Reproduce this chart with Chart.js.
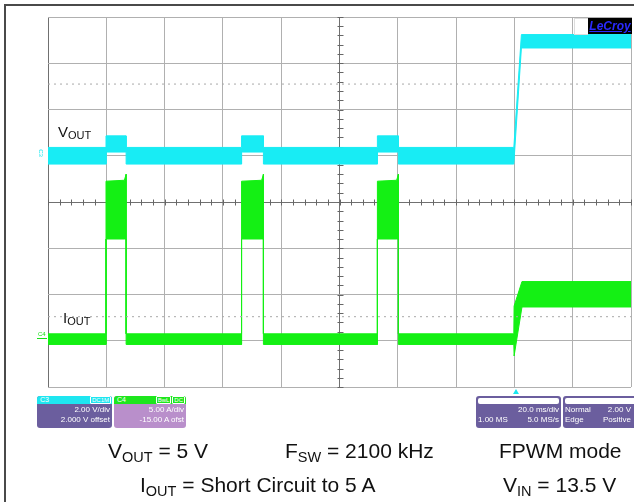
<!DOCTYPE html>
<html>
<head>
<meta charset="utf-8">
<script src="https://cdn.jsdelivr.net/npm/chart.js@4"></script>
<style>
  body { margin:0; background:#fff; }
  #wrap { position:relative; width:634px; height:502px; overflow:hidden; background:#fff; font-family:"Liberation Sans", Arial, sans-serif; }
  #scope { position:absolute; left:0; top:0; }
  .frame { position:absolute; left:4px; top:4px; width:700px; height:600px; border-left:2px solid #4a4a4a; border-top:2px solid #4a4a4a; }
  .lbl { position:absolute; font-size:15px; line-height:15px; color:#111; white-space:nowrap; }
  .lbl span { font-size:11px; position:relative; top:2px; }
  .note { position:absolute; font-size:21px; line-height:21px; color:#111; white-space:nowrap; }
  .note span { font-size:14.5px; position:relative; top:3.5px; }
  .box { position:absolute; border-radius:3px; overflow:hidden; font-size:8px; line-height:9px; color:#fff; }
  .box .hd { height:8px; position:relative; padding-left:3px; line-height:8px; font-size:7px; }
  .box .hd .tag { position:absolute; top:0; right:1px; font-size:6px; line-height:6px; }
  .box .hd .tag b { display:inline-block; border:1px solid #fff; border-radius:1px; padding:0 1px; font-weight:normal; margin-left:1px; }
  .box .row { display:flex; justify-content:space-between; padding:0 2px; height:10px; line-height:11px; }
  .box .inner { height:6px; margin:2px 2px 0 2px; background:#fff; border-radius:2px; }
  #lecroy { position:absolute; left:588px; top:18px; width:44px; height:16px; background:#000; color:#2a2aff; font:bold italic 12px "Liberation Sans", Arial, sans-serif; line-height:16px; text-align:center; text-decoration:underline; }
  #lecroyL { position:absolute; left:574px; top:18px; width:13px; height:15px; border:1px solid #ddd; border-right:none; }
  .mark { position:absolute; font-size:6px; line-height:6px; }
  #trig { position:absolute; left:513px; top:389px; width:0; height:0; border-left:3px solid transparent; border-right:3px solid transparent; border-bottom:5px solid #18e8f0; }
</style>
</head>
<body>
<div id="wrap">
  <canvas id="scope" width="634" height="502"></canvas>
  <div class="frame"></div>

  <div id="lecroyL"></div>
  <div id="lecroy">LeCroy</div>

  <div class="lbl" style="left:58px;top:124px">V<span>OUT</span></div>
  <div class="lbl" style="left:63px;top:310px">I<span>OUT</span></div>

  <div class="mark" style="left:37px;top:150px;color:#18e8f0;transform:rotate(90deg);">C3</div>
  <div class="mark" style="left:38px;top:331px;color:#18e018;">C4</div>
  <div style="position:absolute;left:37px;top:338px;width:10px;height:1px;background:#18e018;"></div>

  <div id="trig"></div>

  <div class="box" style="left:37px;top:396px;width:75px;height:32px;background:#6b5e9e;">
    <div class="hd" style="background:#1ee6f0;">C3<div class="tag"><b>DC1M</b></div></div>
    <div class="row"><span></span><span>2.00 V/div</span></div>
    <div class="row"><span></span><span>2.000 V offset</span></div>
  </div>
  <div class="box" style="left:114px;top:396px;width:72px;height:32px;background:#b98fcb;">
    <div class="hd" style="background:#1ee61e;">C4<div class="tag"><b>BwL</b><b>DC</b></div></div>
    <div class="row"><span></span><span>5.00 A/div</span></div>
    <div class="row"><span></span><span>-15.00 A ofst</span></div>
  </div>
  <div class="box" style="left:476px;top:396px;width:85px;height:32px;background:#6b5e9e;">
    <div class="inner"></div>
    <div class="row"><span></span><span>20.0 ms/div</span></div>
    <div class="row"><span>1.00 MS</span><span>5.0 MS/s</span></div>
  </div>
  <div class="box" style="left:563px;top:396px;width:76px;height:32px;background:#6b5e9e;">
    <div class="inner"></div>
    <div class="row" style="padding-right:8px"><span>Normal</span><span>2.00 V</span></div>
    <div class="row" style="padding-right:8px"><span>Edge</span><span>Positive</span></div>
  </div>

  <div class="note" style="left:108px;top:440px">V<span>OUT</span> = 5 V</div>
  <div class="note" style="left:285px;top:440px">F<span>SW</span> = 2100 kHz</div>
  <div class="note" style="left:499px;top:440px">FPWM mode</div>
  <div class="note" style="left:140px;top:474px">I<span>OUT</span> = Short Circuit to 5 A</div>
  <div class="note" style="left:503px;top:474px">V<span>IN</span> = 13.5 V</div>
</div>

<script>
// --- Dados lidos da tela (20 ms/div no eixo x, divisões no eixo y) ---
const tempoMin = 0;
const tempoMax = 200;
const divMin = -4;
const divMax = 4;

// VOUT (C3, 2 V/div): envoltória superior e inferior do ruído
const voutTempo = [0,    19.9, 19.9, 26.8, 26.8, 66.4, 66.4, 73.9, 73.9, 113.0, 113.0, 120.2, 120.2, 159.8, 162.4, 200];
const voutAlto  = [1.18, 1.18, 1.43, 1.43, 1.18, 1.18, 1.43, 1.43, 1.18, 1.18,  1.43,  1.43,  1.18,  1.18,  3.62,  3.62];
const voutBaixo = [0.82, 0.82, 1.08, 1.08, 0.82, 0.82, 1.08, 1.08, 0.82, 0.82,  1.08,  1.08,  0.82,  0.82,  3.33,  3.33];

// IOUT (C4, 5 A/div)
const ioutTempo = [0,     19.9,  19.9,  26.2,  26.8,  26.8,  66.4,  66.4,  73.3,  73.9,  73.9,  113.0, 113.0, 119.6, 120.2, 120.2, 159.8, 159.9, 162.6, 200];
const ioutAlto  = [-2.85, -2.85, 0.45,  0.47,  0.60,  -2.85, -2.85, 0.45,  0.47,  0.60,  -2.85, -2.85, 0.45,  0.47,  0.60,  -2.85, -2.85, -2.25, -1.72, -1.72];
const ioutBaixo = [-3.08, -3.08, -0.80, -0.80, -0.80, -3.08, -3.08, -0.80, -0.80, -0.80, -3.08, -3.08, -0.80, -0.80, -0.80, -3.08, -3.08, -3.33, -2.27, -2.27];

// linhas pontilhadas de cursor
const cursores = [2.55, -2.48];

const corVout = '#18ecf4';
const corIout = '#14f014';

// monta o contorno fechado: envoltória de cima pra frente, de baixo pra trás
function montarFaixa(tempo, alto, baixo) {
    const pts = [];
    for (let i = 0; i < tempo.length; i++) pts.push({x: tempo[i], y: alto[i]});
    for (let i = tempo.length - 1; i >= 0; i--) pts.push({x: tempo[i], y: baixo[i]});
    pts.push({x: tempo[0], y: alto[0]});
    return pts;
}

// marcas pequenas nos eixos centrais
const marcasCentrais = {
    id: 'marcasCentrais',
    beforeDatasetsDraw(chart) {
        const {ctx, scales: {x, y}} = chart;
        const cx = Math.round(x.getPixelForValue((tempoMin + tempoMax) / 2)) + 0.5;
        const cy = Math.round(y.getPixelForValue(0)) + 0.5;
        ctx.save();
        ctx.strokeStyle = '#666';
        ctx.lineWidth = 1;
        ctx.beginPath();
        for (let t = tempoMin; t <= tempoMax; t += 4) {
            const px = Math.round(x.getPixelForValue(t)) + 0.5;
            ctx.moveTo(px, cy - 3); ctx.lineTo(px, cy + 3);
        }
        for (let k = 0; k <= 40; k++) {
            const py = Math.round(y.getPixelForValue(divMin + k * 0.2)) + 0.5;
            ctx.moveTo(cx - 3, py); ctx.lineTo(cx + 3, py);
        }
        ctx.stroke();
        ctx.restore();
    }
};

const datasets = cursores.map(v => ({
    data: [{x: tempoMin, y: v}, {x: tempoMax, y: v}],
    borderColor: '#a8a8a8',
    borderWidth: 1,
    borderDash: [2, 4],
    pointRadius: 0,
    showLine: true,
    fill: false
}));

datasets.push({
    label: 'IOUT',
    data: montarFaixa(ioutTempo, ioutAlto, ioutBaixo),
    borderColor: corIout,
    backgroundColor: corIout,
    borderWidth: 1,
    pointRadius: 0,
    showLine: true,
    fill: 'shape'
});
datasets.push({
    label: 'VOUT',
    data: montarFaixa(voutTempo, voutAlto, voutBaixo),
    borderColor: corVout,
    backgroundColor: corVout,
    borderWidth: 1,
    pointRadius: 0,
    showLine: true,
    fill: 'shape'
});

const corGrade = ctx => (ctx.tick && (ctx.tick.value === 0 || ctx.tick.value === 100)) ? '#707070' : '#b0b0b0';

new Chart(document.getElementById('scope'), {
    type: 'scatter',
    data: { datasets: datasets },
    options: {
        responsive: false,
        animation: false,
        layout: { padding: { left: 48, top: 17, right: 3, bottom: 115 } },
        plugins: { legend: { display: false }, tooltip: { enabled: false } },
        scales: {
            x: {
                type: 'linear', min: tempoMin, max: tempoMax,
                ticks: { display: false, stepSize: 20 },
                grid: { color: corGrade, drawTicks: false, lineWidth: 1 },
                border: { display: false }
            },
            y: {
                min: divMin, max: divMax,
                ticks: { display: false, stepSize: 1 },
                grid: { color: corGrade, drawTicks: false, lineWidth: 1 },
                border: { display: false }
            }
        }
    },
    plugins: [marcasCentrais]
});
</script>
</body>
</html>
